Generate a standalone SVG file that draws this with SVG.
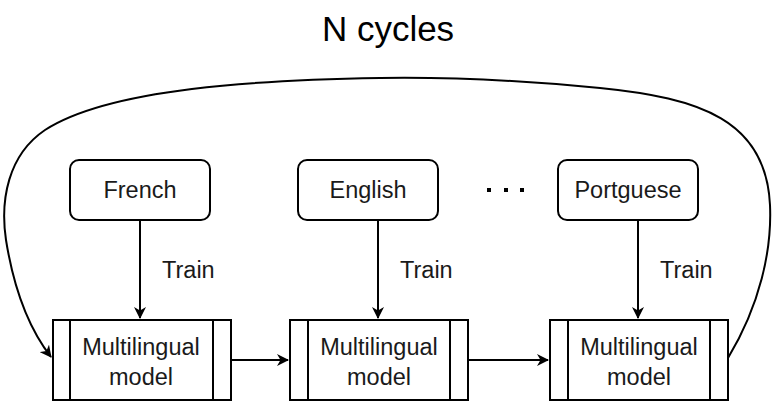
<svg xmlns="http://www.w3.org/2000/svg" width="776" height="402" viewBox="0 0 776 402">
<style>
.box{fill:#fff;stroke:#000;stroke-width:2}
.ln{fill:none;stroke:#000;stroke-width:2}
.t{font-family:"Liberation Sans",Arial,sans-serif;font-size:23.5px;fill:#1a1a1a;text-anchor:middle}
.lbl{font-family:"Liberation Sans",Arial,sans-serif;font-size:23.5px;fill:#1a1a1a;text-anchor:start}
.title{font-family:"Liberation Sans",Arial,sans-serif;font-size:35px;fill:#000;text-anchor:middle}
</style>
<defs>
<marker id="arr" markerWidth="12" markerHeight="12" viewBox="0 0 12 12" refX="11" refY="6" orient="auto" markerUnits="userSpaceOnUse">
<path d="M0,0 L12,6 L0,12 L3.5,6 Z" fill="#000"/>
</marker>
</defs>
<rect width="776" height="402" fill="#fff"/>
<text class="title" x="388" y="41">N cycles</text>
<g id="connectors">
<path class="ln" d="M140,220 V318" marker-end="url(#arr)"/>
<path class="ln" d="M378,220 V318" marker-end="url(#arr)"/>
<path class="ln" d="M638,220 V318" marker-end="url(#arr)"/>
<path class="ln" d="M231,360 H288" marker-end="url(#arr)"/>
<path class="ln" d="M468,360 H548" marker-end="url(#arr)"/>
<path class="ln" d="M728,358 C760,305 772,250 770,205 C766,120 700,98 600,88 C520,80 450,77 380,78 C260,80 110,88 45,130 C8,155 0,200 6,240 C14,290 30,330 51,357" marker-end="url(#arr)"/>
<text class="lbl" x="162" y="278">Train</text>
<text class="lbl" x="400" y="278">Train</text>
<text class="lbl" x="660" y="278">Train</text>
</g>
<g id="french">
<rect class="box" x="70" y="160" width="140" height="60" rx="9"/>
<text class="t" x="140" y="198">French</text>
</g>
<g id="english">
<rect class="box" x="298" y="160" width="140" height="60" rx="9"/>
<text class="t" x="368" y="198">English</text>
</g>
<g id="dots">
<rect x="487" y="188" width="4" height="4" fill="#000"/>
<rect x="504" y="188" width="4" height="4" fill="#000"/>
<rect x="520" y="188" width="4" height="4" fill="#000"/>
</g>
<g id="portguese">
<rect class="box" x="558" y="160" width="140" height="60" rx="9"/>
<text class="t" x="628" y="198">Portguese</text>
</g>
<g id="model1">
<rect class="box" x="53" y="320" width="178" height="80"/>
<path class="ln" d="M70,320 V400 M213,320 V400"/>
<text class="t" x="141" y="355">Multilingual</text>
<text class="t" x="141" y="385">model</text>
</g>
<g id="model2">
<rect class="box" x="290" y="320" width="178" height="80"/>
<path class="ln" d="M308,320 V400 M450,320 V400"/>
<text class="t" x="379" y="355">Multilingual</text>
<text class="t" x="379" y="385">model</text>
</g>
<g id="model3">
<rect class="box" x="550" y="320" width="178" height="80"/>
<path class="ln" d="M568,320 V400 M710,320 V400"/>
<text class="t" x="639" y="355">Multilingual</text>
<text class="t" x="639" y="385">model</text>
</g>
</svg>
